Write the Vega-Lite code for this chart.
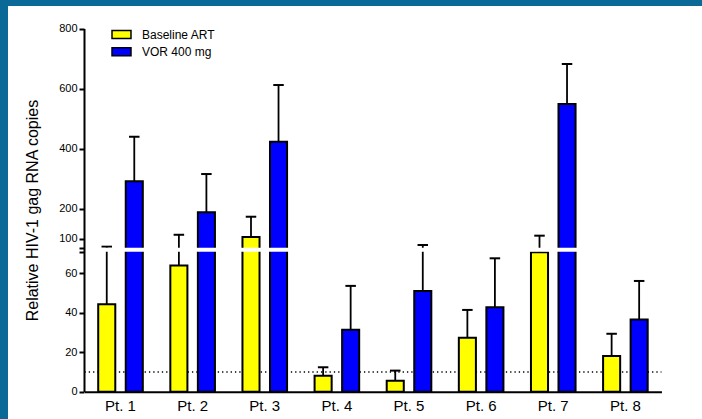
{
  "$schema": "https://vega.github.io/schema/vega-lite/v6.json",
  "width": 694,
  "height": 413,
  "autosize": {"type": "none"},
  "padding": {"left": 8, "top": 6, "right": 0, "bottom": 0},
  "background": "#0a6996",
  "config": {
    "view": {"stroke": null, "fill": "white"},
    "font": "Liberation Sans"
  },
  "data": {
    "values": [
      {"pt": "Pt. 1", "group": "Baseline ART", "value": 44.4, "upper": 74.4},
      {"pt": "Pt. 1", "group": "VOR 400 mg", "value": 292, "upper": 440},
      {"pt": "Pt. 2", "group": "Baseline ART", "value": 64, "upper": 114},
      {"pt": "Pt. 2", "group": "VOR 400 mg", "value": 189, "upper": 316},
      {"pt": "Pt. 3", "group": "Baseline ART", "value": 107, "upper": 174},
      {"pt": "Pt. 3", "group": "VOR 400 mg", "value": 423, "upper": 612},
      {"pt": "Pt. 4", "group": "Baseline ART", "value": 8.1, "upper": 12.4},
      {"pt": "Pt. 4", "group": "VOR 400 mg", "value": 31.5, "upper": 53.7},
      {"pt": "Pt. 5", "group": "Baseline ART", "value": 5.6, "upper": 10.7},
      {"pt": "Pt. 5", "group": "VOR 400 mg", "value": 51.1, "upper": 80},
      {"pt": "Pt. 6", "group": "Baseline ART", "value": 27.4, "upper": 41.5},
      {"pt": "Pt. 6", "group": "VOR 400 mg", "value": 42.8, "upper": 67.7},
      {"pt": "Pt. 7", "group": "Baseline ART", "value": 70.8, "upper": 111},
      {"pt": "Pt. 7", "group": "VOR 400 mg", "value": 549, "upper": 682},
      {"pt": "Pt. 8", "group": "Baseline ART", "value": 18.1, "upper": 29.4},
      {"pt": "Pt. 8", "group": "VOR 400 mg", "value": 36.7, "upper": 56.2}
    ]
  },
  "layer": [
    {
      "data": {"values": [{"limit": 10}]},
      "mark": {"type": "rule", "color": "black", "strokeWidth": 1.3, "strokeDash": [1.3, 3]},
      "encoding": {
        "x": {"datum": 0, "type": "quantitative", "scale": {"domain": [0, 1], "range": [76.45, 653.45]}, "axis": null},
        "x2": {"datum": 1},
        "y": {"field": "limit", "type": "quantitative",
              "scale": {"type": "linear", "domain": [0, 71, 71.0001, 800], "range": [385.7, 245.8, 241.7, 22.5], "nice": false, "zero": false}}
      }
    },
    {
      "layer": [
        {
          "mark": {"type": "bar", "stroke": "black", "strokeWidth": 2},
          "encoding": {
            "x": {"field": "pt", "type": "nominal",
                  "scale": {"type": "band", "range": [76.45, 653.45], "paddingInner": 0, "paddingOuter": 0},
                  "axis": {"title": null, "labelAngle": 0, "labelFontSize": 15, "labelColor": "black", "labelPadding": 7,
                           "ticks": false, "tickSize": 0, "domainColor": "black", "domainWidth": 2,
                           "offset": -27.3, "zindex": 1}},
            "xOffset": {"field": "group", "type": "nominal", "scale": {"paddingInner": 0.38, "paddingOuter": 0.5}},
            "y": {"field": "value", "type": "quantitative",
                  "scale": {"type": "linear", "domain": [0, 71, 71.0001, 800], "range": [385.7, 245.8, 241.7, 22.5], "nice": false, "zero": false},
                  "axis": {"values": [0, 20, 40, 60, 71, 71.0001, 100, 200, 400, 600, 800],
                           "labelExpr": "datum.value > 70 && datum.value < 72 ? '' : datum.label",
                           "format": "d", "offset": -76, "zindex": 1, "grid": false,
                           "title": "Relative HIV-1 gag RNA copies", "titleFontSize": 16, "titleFontWeight": "normal",
                           "titleColor": "black", "titlePadding": 18,
                           "labelFontSize": 11, "labelColor": "black", "labelPadding": 2, "labelOverlap": false, "labelBound": false,
                           "tickSize": 5, "tickWidth": 2, "tickColor": "black", "domainColor": "black", "domainWidth": 2}},
            "color": {"field": "group", "type": "nominal",
                      "scale": {"domain": ["Baseline ART", "VOR 400 mg"], "range": ["#ffff00", "#0000ff"]},
                      "legend": {"title": null, "orient": "none", "legendX": 106, "legendY": 21, "padding": 0,
                                 "symbolType": "M-1.5,-0.63H1.5V0.63H-1.5Z", "symbolSize": 160,
                                 "symbolStrokeColor": "black", "symbolStrokeWidth": 1.5,
                                 "labelFontSize": 12, "labelColor": "black", "labelOffset": 13, "rowPadding": 2.3}}
          }
        },
        {
          "mark": {"type": "rule", "color": "black", "strokeWidth": 1.8},
          "encoding": {
            "x": {"field": "pt", "type": "nominal"},
            "xOffset": {"field": "group", "type": "nominal"},
            "y": {"field": "value", "type": "quantitative"},
            "y2": {"field": "upper"}
          }
        },
        {
          "mark": {"type": "tick", "color": "black", "thickness": 2, "size": 10.5, "opacity": 1},
          "encoding": {
            "x": {"field": "pt", "type": "nominal"},
            "xOffset": {"field": "group", "type": "nominal"},
            "y": {"field": "upper", "type": "quantitative"}
          }
        }
      ]
    },
    {
      "data": {"values": [{"cut": 71.00005}]},
      "mark": {"type": "rule", "color": "white", "strokeWidth": 4},
      "encoding": {
        "x": {"datum": 0, "type": "quantitative", "scale": {"domain": [0, 1], "range": [80, 660]}, "axis": null},
        "x2": {"datum": 1},
        "y": {"field": "cut", "type": "quantitative"}
      }
    }
  ],
  "resolve": {"scale": {"x": "independent"}, "axis": {"x": "independent"}}
}
